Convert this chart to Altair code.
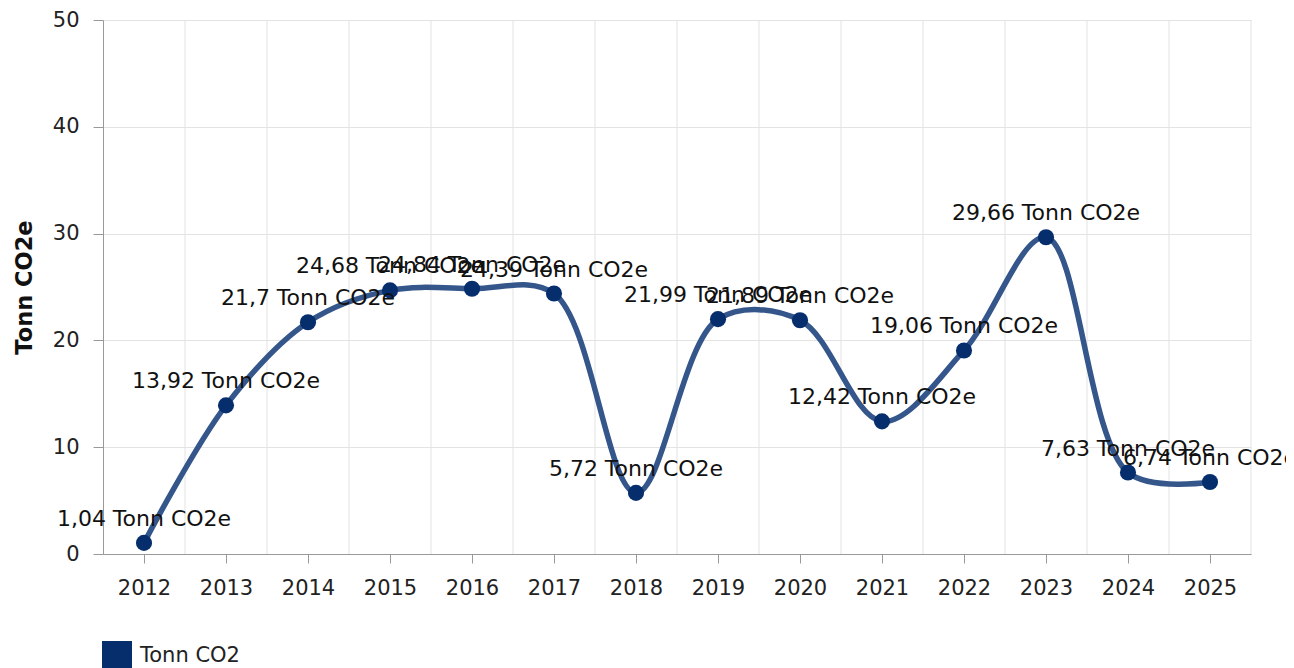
import altair as alt
import pandas as pd

years = [2012, 2013, 2014, 2015, 2016, 2017, 2018, 2019, 2020, 2021, 2022, 2023, 2024, 2025]
values = [1.04, 13.92, 21.7, 24.68, 24.84, 24.39, 5.72, 21.99, 21.89, 12.42, 19.06, 29.66, 7.63, 6.74]
series_name = "Tonn CO2"
unit = "Tonn CO2e"
y_ticks = [0, 10, 20, 30, 40, 50]

df = pd.DataFrame({
    "year": years,
    "value": values,
    "label": [format(v, "g").replace(".", ",") + " " + unit for v in values],
    "series": [series_name] * len(years),
})
bounds = pd.DataFrame({"b": [y + 0.5 for y in years]})

FONT = "DejaVu Sans"
xscale = alt.Scale(domain=[years[0] - 0.5, years[-1] + 0.5], nice=False, zero=False)
yscale = alt.Scale(domain=[0, 50], nice=False)

xaxis = alt.Axis(values=years, format="d", grid=False, title=None,
                 tickSize=9, tickColor="#999999", domainColor="#999999",
                 labelFontSize=21, labelFont=FONT, labelColor="#222222",
                 labelPadding=14)
yaxis = alt.Axis(values=y_ticks, title=unit, grid=True, gridColor="#e3e3e3",
                 tickSize=10, tickColor="#999999", domainColor="#999999",
                 labelFontSize=21, labelFont=FONT, labelColor="#222222",
                 labelPadding=14,
                 titleFont=FONT, titleFontSize=22.5, titleFontWeight="bold",
                 titleColor="#111111", titleX=-67, titleY=267,
                 titleAngle=270, titleBaseline="bottom")

grid = alt.Chart(bounds).mark_rule(color="#e3e3e3", strokeWidth=1).encode(
    x=alt.X("b:Q", scale=xscale, axis=xaxis)
)

base = alt.Chart(df)

line = base.mark_line(color="#34568b", strokeWidth=5.5, interpolate="catmull-rom").encode(
    x=alt.X("year:Q", scale=xscale, axis=xaxis),
    y=alt.Y("value:Q", scale=yscale, axis=yaxis),
)

points = base.mark_point(filled=True, size=260, opacity=1).encode(
    x=alt.X("year:Q", scale=xscale, axis=xaxis),
    y=alt.Y("value:Q", scale=yscale, axis=yaxis),
    color=alt.Color("series:N", scale=alt.Scale(range=["#062e6d"]),
                    legend=alt.Legend(title=None, orient="none", legendX=-1, legendY=621,
                                      symbolType="square", symbolSize=900,
                                      symbolStrokeWidth=0, symbolOpacity=1,
                                      labelFontSize=21, labelFont=FONT,
                                      labelColor="#222222", padding=0, labelOffset=8)),
)

text = base.mark_text(fontSize=22, font=FONT, color="#111111", dy=-17,
                      baseline="alphabetic", align="center").encode(
    x=alt.X("year:Q", scale=xscale, axis=xaxis),
    y=alt.Y("value:Q", scale=yscale, axis=yaxis),
    text="label:N",
)

chart = alt.layer(grid, line, points, text).properties(
    width=1148, height=534,
    autosize=alt.AutoSizeParams(type="none"),
    padding={"left": 95, "top": 12, "right": 35, "bottom": 116},
).configure_view(stroke=None)

chart.save("out.html", embed_options={"renderer": "svg", "actions": False})
